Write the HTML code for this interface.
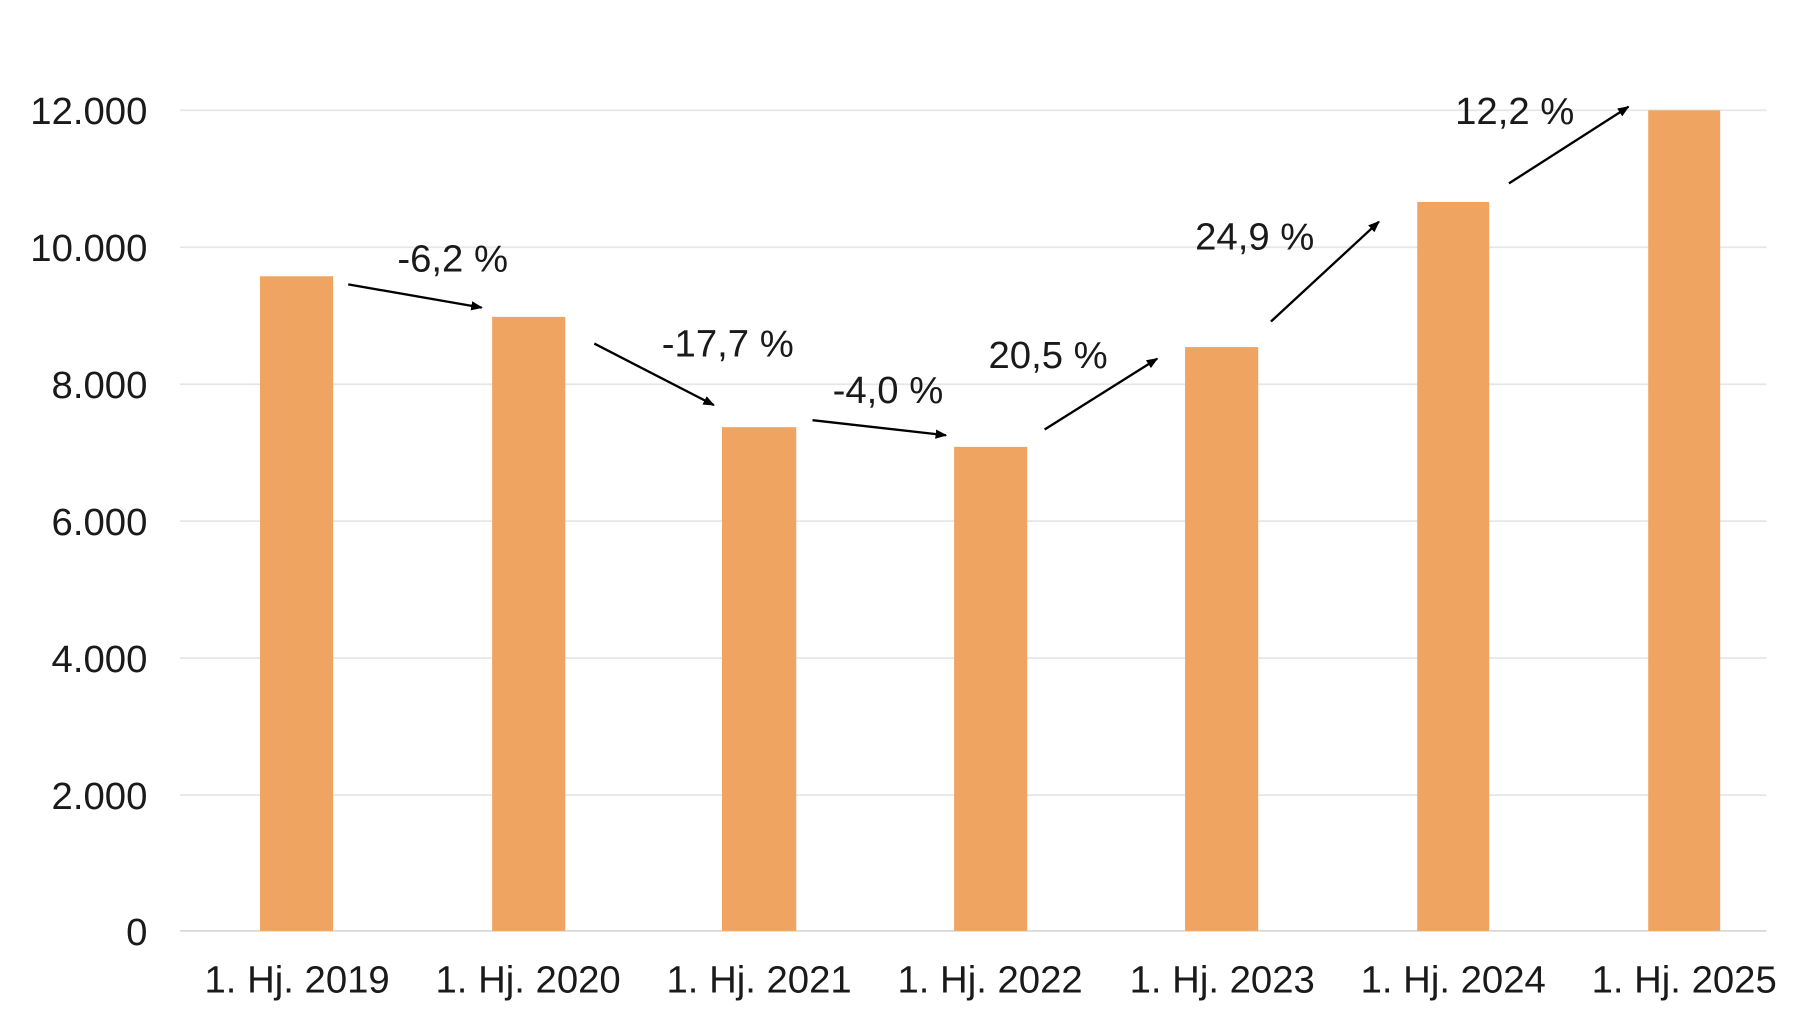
<!DOCTYPE html>
<html><head><meta charset="utf-8"><style>
html,body{margin:0;padding:0;background:#fff;}
svg{display:block;}
text{font-family:"Liberation Sans",Arial,sans-serif;fill:#1a1a1a;}
</style></head><body>
<svg width="1820" height="1021" viewBox="0 0 1568 879.6" preserveAspectRatio="none">
<defs><marker id="a" markerWidth="10" markerHeight="10" refX="9" refY="5" orient="auto" markerUnits="userSpaceOnUse"><path d="M0,1 L10,5 L0,9 z" fill="#000"/></marker></defs>
<g stroke="#e6e6e6" stroke-width="1.5">
<line x1="155" x2="1522" y1="95" y2="95"/>
<line x1="155" x2="1522" y1="213" y2="213"/>
<line x1="155" x2="1522" y1="331" y2="331"/>
<line x1="155" x2="1522" y1="449" y2="449"/>
<line x1="155" x2="1522" y1="567" y2="567"/>
<line x1="155" x2="1522" y1="685" y2="685"/>
<line x1="155" x2="1522" y1="802" y2="802" stroke="#d9d9d9"/>
</g>
<g font-size="33" text-anchor="end">
<text x="127" y="107">12.000</text>
<text x="127" y="225">10.000</text>
<text x="127" y="343">8.000</text>
<text x="127" y="461">6.000</text>
<text x="127" y="579">4.000</text>
<text x="127" y="697">2.000</text>
<text x="127" y="814">0</text>
</g>
<g fill="#F0A462">
<rect x="224" y="238" width="63" height="564"/>
<rect x="424" y="273" width="63" height="529"/>
<rect x="622" y="368" width="64" height="434"/>
<rect x="822" y="385" width="63" height="417"/>
<rect x="1021" y="299" width="63" height="503"/>
<rect x="1221" y="174" width="62" height="628"/>
<rect x="1420" y="95" width="62" height="707"/>
</g>
<g font-size="33" text-anchor="middle">
<text x="256" y="855">1. Hj. 2019</text>
<text x="455" y="855">1. Hj. 2020</text>
<text x="654" y="855">1. Hj. 2021</text>
<text x="853" y="855">1. Hj. 2022</text>
<text x="1053" y="855">1. Hj. 2023</text>
<text x="1252" y="855">1. Hj. 2024</text>
<text x="1451" y="855">1. Hj. 2025</text>
</g>
<g stroke="#000" stroke-width="2" marker-end="url(#a)">
<line x1="300" y1="245" x2="415" y2="265"/>
<line x1="512" y1="296" x2="615" y2="349"/>
<line x1="700" y1="362" x2="815" y2="375"/>
<line x1="900" y1="370" x2="997" y2="309"/>
<line x1="1095" y1="277" x2="1188" y2="191"/>
<line x1="1300" y1="158" x2="1403" y2="92"/>
</g>
<g font-size="33" text-anchor="middle">
<text x="390" y="234">-6,2 %</text>
<text x="627" y="307">-17,7 %</text>
<text x="765" y="347">-4,0 %</text>
<text x="903" y="317">20,5 %</text>
<text x="1081" y="215">24,9 %</text>
<text x="1305" y="107">12,2 %</text>
</g>
</svg>
</body></html>
